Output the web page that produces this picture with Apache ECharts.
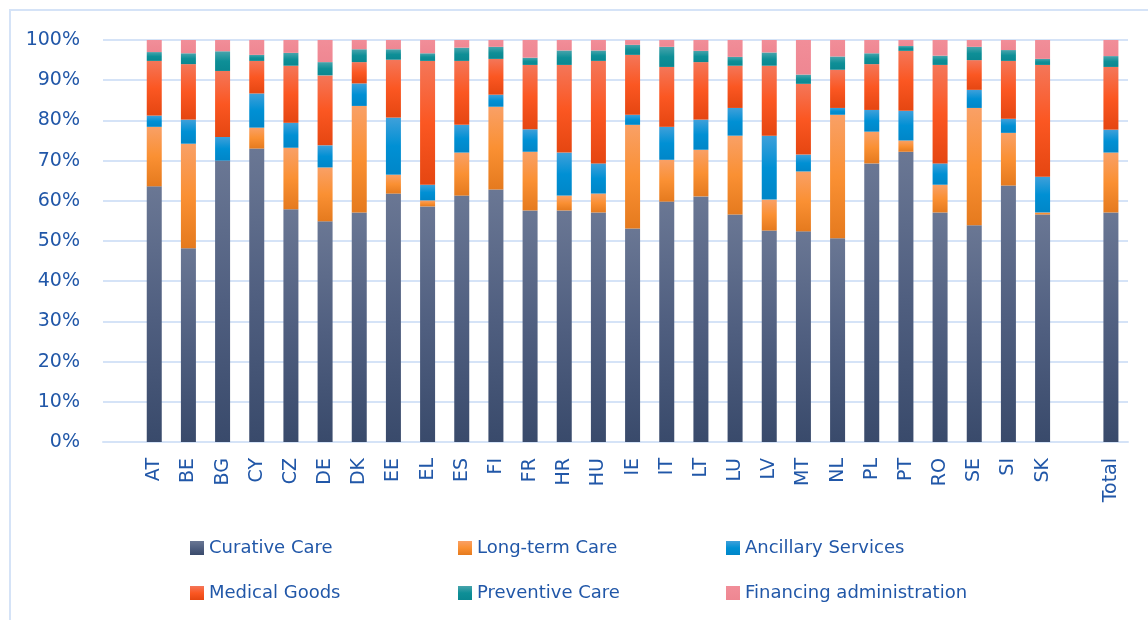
<!DOCTYPE html>
<html>
<head>
<meta charset="utf-8">
<script src="https://cdn.jsdelivr.net/npm/echarts@6/dist/echarts.min.js"></script>
<style>
  html, body { margin: 0; padding: 0; background: #fff; }
  #chart_div { width: 1148px; height: 620px; }
</style>
</head>
<body>
<div id="chart_div"></div>
<script>
// 国家 (空位用于间隔)
var countries = ['', 'AT', 'BE', 'BG', 'CY', 'CZ', 'DE', 'DK', 'EE', 'EL', 'ES', 'FI', 'FR', 'HR', 'HU',
  'IE', 'IT', 'LT', 'LU', 'LV', 'MT', 'NL', 'PL', 'PT', 'RO', 'SE', 'SI', 'SK', '', 'Total']

// 各项占比 %
var curative = [null, 63.6, 48.2, 70.0, 73.0, 57.9, 54.9, 57.1, 61.8, 58.6, 61.3, 62.8, 57.6, 57.6, 57.1,
  53.1, 59.8, 61.1, 56.6, 52.6, 52.4, 50.7, 69.3, 72.2, 57.1, 53.9, 63.8, 56.6, null, 57.1]
var longTerm = [null, 14.8, 26.0, 0, 5.2, 15.3, 13.4, 26.5, 4.7, 1.5, 10.7, 20.6, 14.6, 3.7, 4.7,
  25.8, 10.4, 11.6, 19.6, 7.7, 14.9, 30.7, 7.9, 2.8, 6.9, 29.2, 13.1, 0.5, null, 14.9]
var ancillary = [null, 2.8, 6.0, 5.9, 8.5, 6.2, 5.5, 5.6, 14.2, 3.9, 6.9, 3.0, 5.6, 10.7, 7.5,
  2.5, 8.2, 7.5, 6.9, 15.9, 4.2, 1.7, 5.4, 7.4, 5.3, 4.5, 3.5, 8.9, null, 5.7]
var medical = [null, 13.6, 13.8, 16.4, 8.1, 14.2, 17.4, 5.3, 14.4, 30.8, 15.9, 8.9, 16.0, 21.8, 25.5,
  14.9, 14.9, 14.3, 10.5, 17.4, 17.6, 9.5, 11.4, 14.9, 24.5, 7.4, 14.4, 27.8, null, 15.6]
var preventive = [null, 2.2, 2.7, 4.9, 1.5, 3.2, 3.3, 3.2, 2.6, 1.9, 3.3, 3.0, 1.8, 3.6, 2.6,
  2.5, 5.0, 2.8, 2.2, 3.3, 2.3, 3.3, 2.7, 1.2, 2.3, 3.3, 2.7, 1.5, null, 2.7]
var financing = [null, 3.0, 3.3, 2.8, 3.7, 3.2, 5.5, 2.3, 2.3, 3.3, 1.9, 1.7, 4.4, 2.6, 2.6,
  1.2, 1.7, 2.7, 4.2, 3.1, 8.6, 4.1, 3.3, 1.5, 3.9, 1.7, 2.5, 4.7, null, 4.0]

var seriesNames = ['Curative Care', 'Long-term Care', 'Ancillary Services',
  'Medical Goods', 'Preventive Care', 'Financing administration']
var seriesData = [curative, longTerm, ancillary, medical, preventive, financing]

// 渐变色 (上 -> 下)
var gradients = [
  ['#6A7794', '#505F80', '#394A6B'],
  ['#F9A066', '#FA9033', '#E57A1E'],
  ['#3FA0DA', '#0090D4', '#0086C8'],
  ['#F47659', '#FB5722', '#E54611'],
  ['#48A4AC', '#0E8F97', '#0A8790'],
  ['#F18E99', '#F08A95', '#EE8792']
]

function grad(c) {
  return new echarts.graphic.LinearGradient(0, 0, 0, 1, [
    { offset: 0, color: c[0] },
    { offset: 0.5, color: c[1] },
    { offset: 1, color: c[2] }
  ])
}

var textBlue = '#2157A8'
var gridBlue = '#D5E3F7'

var series = []
for (var i = 0; i < seriesNames.length; i++) {
  series.push({
    name: seriesNames[i],
    type: 'bar',
    stack: 'total',
    barWidth: 15,
    data: seriesData[i],
    itemStyle: { color: grad(gradients[i]) }
  })
}

// 图例 两行三列
var legendPos = [[190, 538], [458, 538], [726, 538], [190, 583], [458, 583], [726, 583]]
var legends = []
for (var j = 0; j < seriesNames.length; j++) {
  legends.push({
    data: [seriesNames[j]],
    left: legendPos[j][0],
    top: legendPos[j][1],
    padding: 0,
    icon: 'rect',
    itemWidth: 14,
    itemHeight: 14,
    itemGap: 6,
    selectedMode: false,
    textStyle: { color: textBlue, fontSize: 18, fontFamily: 'DejaVu Sans', lineHeight: 20 }
  })
}

var myChart = echarts.init(document.getElementById('chart_div'))
myChart.setOption({
  animation: false,
  backgroundColor: '#fff',
  graphic: [{
    type: 'rect',
    shape: { x: 10, y: 10, width: 1200, height: 700 },
    style: { fill: 'none', stroke: gridBlue, lineWidth: 2 },
    silent: true
  }],
  grid: { left: 103, right: 20, top: 40, bottom: 178 },
  legend: legends,
  xAxis: {
    type: 'category',
    data: countries,
    axisTick: { show: false },
    axisLine: { lineStyle: { color: gridBlue, width: 2 } },
    axisLabel: {
      interval: 0,
      rotate: 90,
      margin: 16,
      color: textBlue,
      fontSize: 19,
      fontFamily: 'DejaVu Sans'
    }
  },
  yAxis: {
    type: 'value',
    min: 0,
    max: 100,
    interval: 10,
    axisLine: { show: false },
    axisTick: { show: false },
    splitLine: { lineStyle: { color: gridBlue, width: 2 } },
    axisLabel: {
      formatter: '{value}%',
      margin: 23,
      color: textBlue,
      fontSize: 19,
      fontFamily: 'DejaVu Sans'
    }
  },
  series: series
})
</script>
</body>
</html>
